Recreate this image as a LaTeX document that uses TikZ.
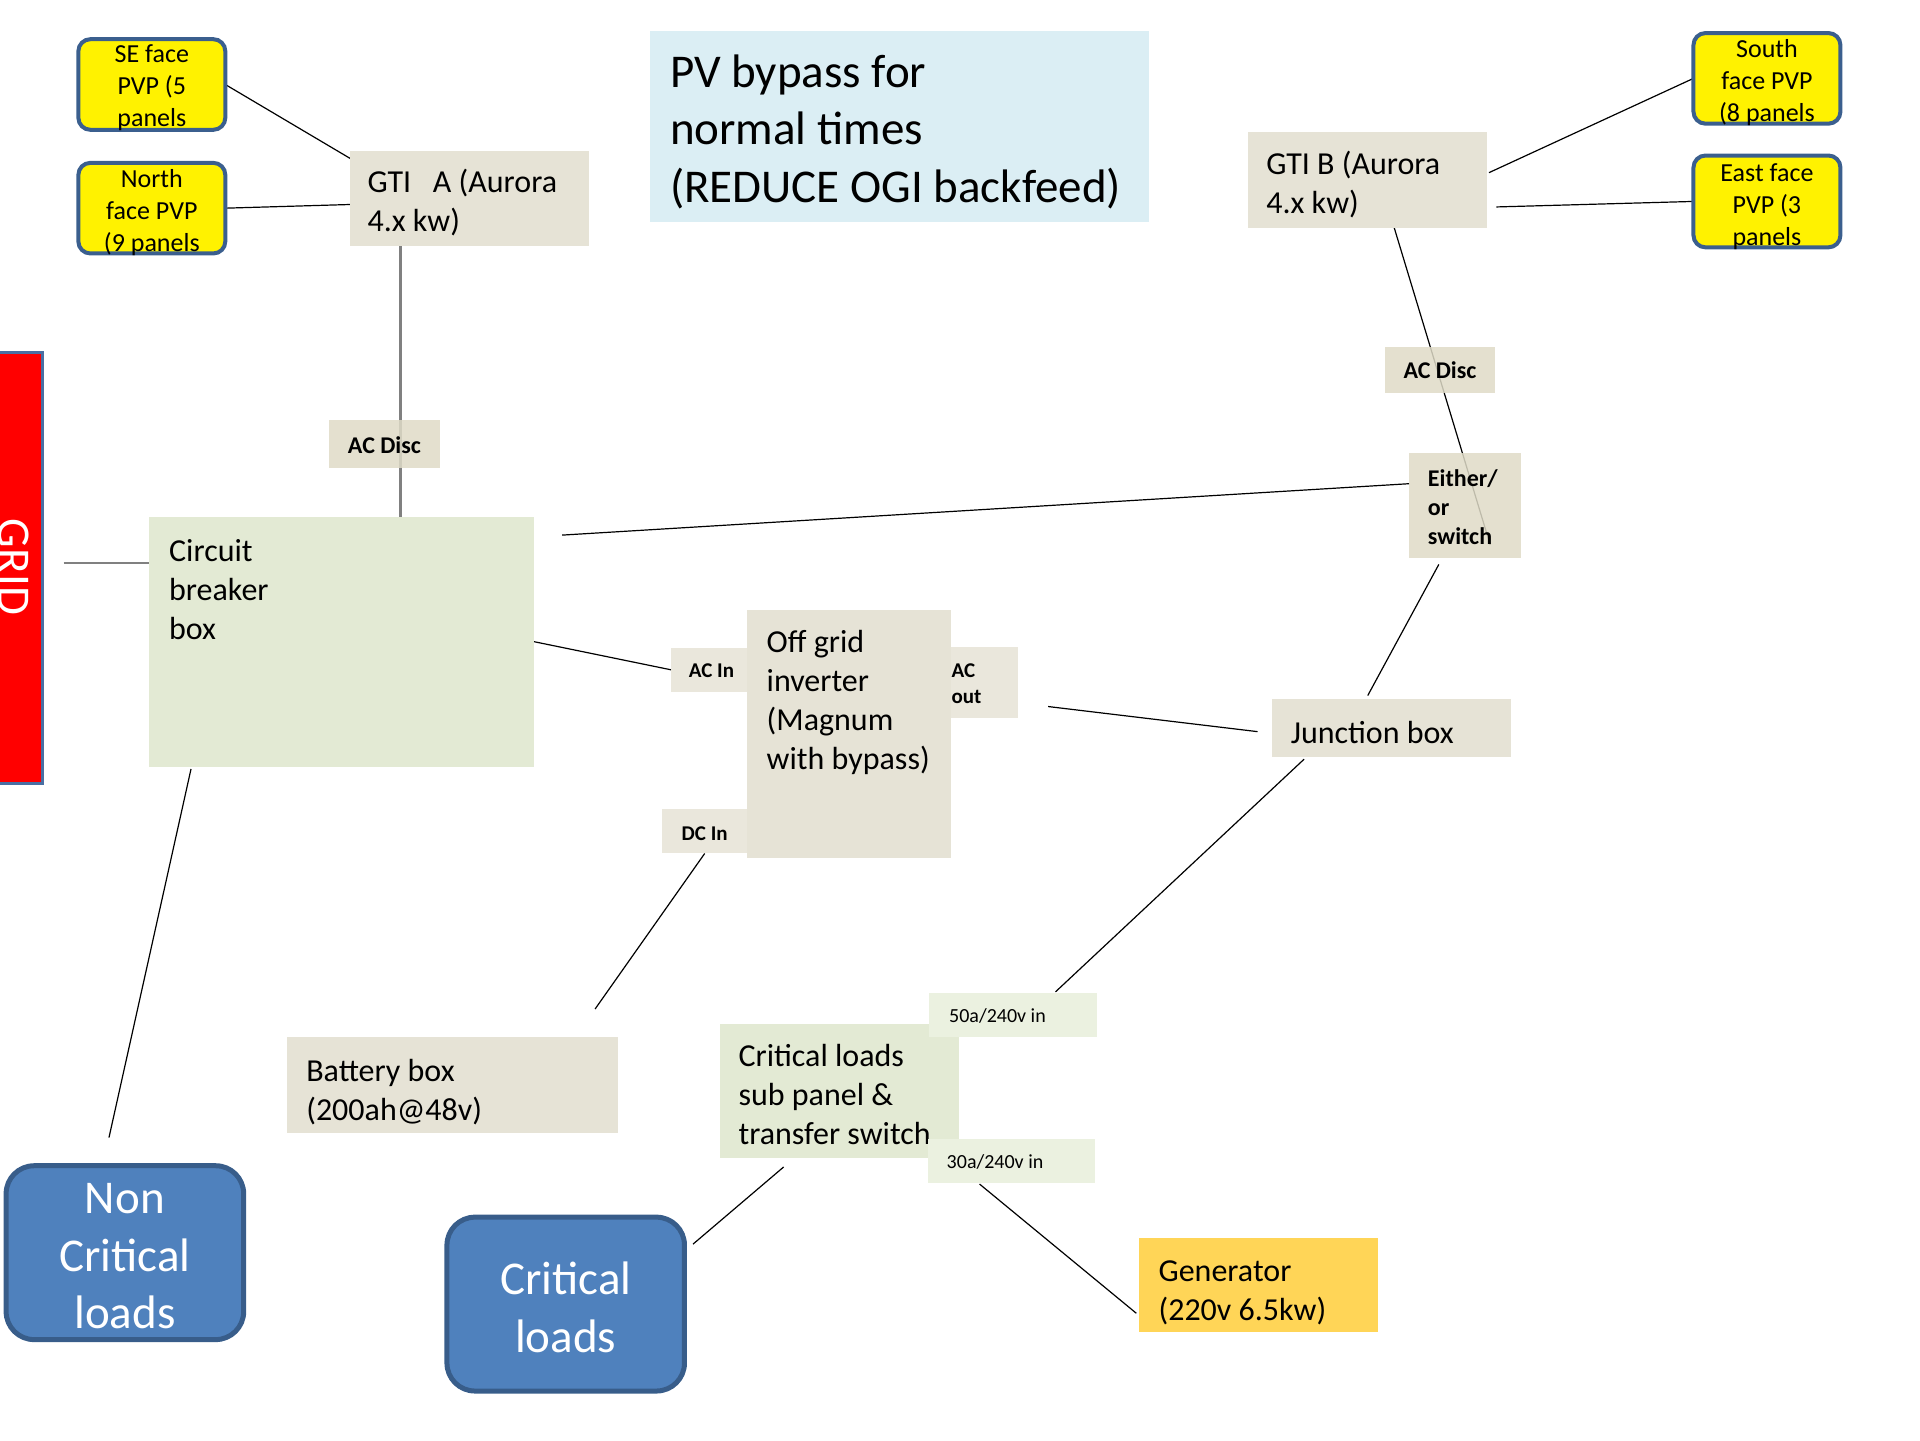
\documentclass[tikz,border=0pt]{standalone}
\usepackage{fontspec}
\setmainfont{Carlito}
\usetikzlibrary{calc}
\pgfdeclarelayer{bg}
\pgfsetlayers{bg,main}
\definecolor{beige}{HTML}{E6E3D6}
\definecolor{tanbox}{HTML}{DFDBC7}
\definecolor{cbgreen}{HTML}{E3EAD4}
\definecolor{ltgreen}{HTML}{EBF1E0}
\definecolor{titleblue}{HTML}{DBEEF4}
\definecolor{genyellow}{HTML}{FFD557}
\definecolor{pvborder}{HTML}{3B5F8E}
\definecolor{loadblue}{HTML}{4F81BD}
\definecolor{loadborder}{HTML}{385D8A}
\definecolor{gridblue}{HTML}{4A6FA3}
\newcommand{\bxnode}[6]{\node[#6, minimum width={(#4-#2)*1.2245pt}, minimum height={(#5-#3)*1.2245pt}] (#1) at ({(#2+#4)/2},{(#3+#5)/2}) {};}
\tikzset{
  box/.style={rectangle, inner sep=0pt, outer sep=0pt, draw=none},
  pv/.style={box, fill=yellow, draw=pvborder, line width=4pt, rounded corners=12pt},
  load/.style={box, fill=loadblue, draw=loadborder, line width=5pt, rounded corners=28pt},
  tagbox/.style={box, fill=tanbox, fill opacity=0.85},
  portbox/.style={box, fill=beige, fill opacity=0.85},
  wire/.style={black, line width=1.2pt},
  gwire/.style={black!50, line width=2.2pt},
  t32/.style={font=\fontsize{32}{39}\selectfont, align=left, anchor=north west, inner sep=0pt, yshift=27.3pt},
  t47/.style={font=\fontsize{47}{57.5}\selectfont, align=left, anchor=north west, inner sep=0pt, yshift=40.25pt},
  t47c/.style={font=\fontsize{47}{57.5}\selectfont, align=center, anchor=north, inner sep=0pt, yshift=40.25pt, text=white},
  t26c/.style={font=\fontsize{26}{32}\selectfont, align=center, anchor=north, inner sep=0pt, yshift=22.4pt},
  tb24/.style={font=\fontsize{24}{29}\selectfont\bfseries, align=left, anchor=north west, inner sep=0pt, yshift=20.3pt},
  tb24c/.style={font=\fontsize{24}{29}\selectfont\bfseries, align=center, anchor=north, inner sep=0pt, yshift=20.3pt},
  tb21/.style={font=\fontsize{21}{26}\selectfont\bfseries, align=left, anchor=north west, inner sep=0pt, yshift=18.2pt},
  tb21c/.style={font=\fontsize{21}{26}\selectfont\bfseries, align=center, anchor=north, inner sep=0pt, yshift=18.2pt},
  t20/.style={font=\fontsize{20}{24}\selectfont, align=left, anchor=north west, inner sep=0pt, yshift=16.8pt},
}
\begin{document}
\begin{tikzpicture}[x=1.2245pt, y=-1.2245pt]
\useasboundingbox (0,0) rectangle (1568,1176);
% boxes
\bxnode{se}{64}{32}{184}{106}{pv}
\bxnode{nf}{64}{133}{184}{207}{pv}
\bxnode{south}{1383}{27}{1503}{101}{pv}
\bxnode{east}{1383}{127}{1503}{202}{pv}
\bxnode{gtiA}{286}{123}{481}{201}{box, fill=beige}
\bxnode{gtiB}{1019}{108}{1214}{186}{box, fill=beige}
\bxnode{title}{531}{25}{938}{181}{box, fill=titleblue}
\bxnode{discA}{269}{343}{359}{382}{tagbox}
\bxnode{discB}{1131}{283}{1221}{321}{tagbox}
\bxnode{either}{1151}{370}{1242}{456}{tagbox}
\bxnode{grid}{-20}{288}{35}{640}{box, fill=red, draw=gridblue, line width=3pt}
\bxnode{cb}{122}{422}{436}{626}{box, fill=cbgreen}
\bxnode{inv}{610}{498}{777}{701}{box, fill=beige}
\bxnode{acin}{548}{529}{613}{565}{portbox}
\bxnode{acout}{762}{528}{831}{586}{portbox}
\bxnode{dcin}{541}{661}{610}{697}{portbox}
\bxnode{jb}{1039}{571}{1234}{618}{box, fill=beige}
\bxnode{bat}{234}{847}{505}{925}{box, fill=beige}
\bxnode{sub}{588}{836}{783}{946}{box, fill=cbgreen}
\node[t32] (sub-t) at (603,871) {\strut Critical loads\\sub panel \&\\transfer switch};
\bxnode{a50}{759}{811}{896}{847}{box, fill=ltgreen}
\bxnode{a30}{758}{930}{894}{966}{box, fill=ltgreen}
\bxnode{gen}{930}{1011}{1125}{1088}{box, fill=genyellow}
\bxnode{ncl}{5}{952}{199}{1094}{load}
\bxnode{crit}{365}{994}{559}{1136}{load}
% texts
\node[t26c] (se-t) at (124,51) {\strut SE face\\PVP (5\\panels};
\node[t26c] (nf-t) at (124,153) {\strut North\\face PVP\\(9 panels};
\node[t26c] (south-t) at (1443,47) {\strut South\\face PVP\\(8 panels};
\node[t26c] (east-t) at (1443,148) {\strut East face\\PVP (3\\panels};
\node[t32] (gtiA-t) at (300,157) {\strut GTI\ \ \ A (Aurora\\4.x kw)};
\node[t32] (gtiB-t) at (1034,142) {\strut GTI B (Aurora\\4.x kw)};
\node[t47] (title-t) at (547,71) {\strut PV bypass for\\normal times\\(REDUCE OGI backfeed)};
\node[tb24c] (discA-t) at (314,370) {\strut AC Disc};
\node[tb24c] (discB-t) at (1176,309) {\strut AC Disc};
\node[tb24] (either-t) at (1166,397) {\strut Either/\\or\\switch};
\node[font=\fontsize{47}{57.5}\selectfont, text=white, rotate=-90, anchor=base, inner sep=0pt] (grid-t) at (-1,463) {GRID};
\node[t32] (cb-t) at (138,458) {\strut Circuit\\breaker\\box};
\node[t32] (inv-t) at (626,533) {\strut Off grid\\inverter\\(Magnum\\with bypass)};
\node[tb21c] (acin-t) at (581,553.5) {\strut AC In};
\node[tb21] (acout-t) at (777,553) {\strut AC\\out};
\node[tb21c] (dcin-t) at (575.5,686.5) {\strut DC In};
\node[t32] (jb-t) at (1054,607) {\strut Junction box};
\node[t32] (bat-t) at (250,883) {\strut Battery box\\(200ah@48v)};
\node[t20] (a50-t) at (775,835) {\strut 50a/240v in};
\node[t20] (a30-t) at (773,954) {\strut 30a/240v in};
\node[t32] (gen-t) at (946,1046) {\strut Generator\\(220v 6.5kw)};
\node[t47c] (ncl-t) at (102,991) {\strut Non\\Critical\\loads};
\node[t47c] (crit-t) at (462,1057) {\strut Critical\\loads};
% connectors
\begin{pgfonlayer}{bg}
\coordinate (gridend) at ($(grid.north east)+(17,172)$);
\coordinate (cbtap) at ($(cb.north east)+(23,15)$);
\draw[wire] (se.east) -- ($(gtiA.north west)+(1,7)$);
\draw[wire] (nf.east) -- ($(gtiA.west)+(0,5)$);
\draw[gwire] ($(gtiA.south west)+(41,0)$) -- ($(cb.north west)+(205,0)$);
\draw[gwire] (gridend) -- ($(cb.north west)+(0,38)$);
\draw[wire] (cbtap) -- ($(either.north west)+(0,25)$);
\draw[wire] (cb.east) -- (acin.west);
\draw[wire] ($(gtiB.south west)+(119,-2)$) -- ($(either.south west)+(66,-11)$);
\draw[wire] ($(gtiB.north east)+(2,33)$) -- (south.west);
\draw[wire] ($(gtiB.north east)+(8,61)$) -- (east.west);
\draw[wire] ($(either.south west)+(24,5)$) -- ($(jb.north west)+(78,-3)$);
\draw[wire] ($(acout.south east)+(25,-9)$) -- ($(jb.west)+(-12,3)$);
\draw[wire] ($(jb.south west)+(26,2)$) -- ($(a50.north west)+(103,-1)$);
\draw[wire] (dcin.south) -- ($(bat.north west)+(252,-23)$);
\draw[wire] ($(cb.south west)+(34,2)$) -- ($(ncl.north west)+(84,-23)$);
\draw[wire] ($(sub.south west)+(52,7)$) -- ($(crit.north east)+(7,22)$);
\draw[wire] ($(a30.south west)+(42,1)$) -- ($(gen.west)+(-2,23)$);
\end{pgfonlayer}
\end{tikzpicture}
\end{document}
